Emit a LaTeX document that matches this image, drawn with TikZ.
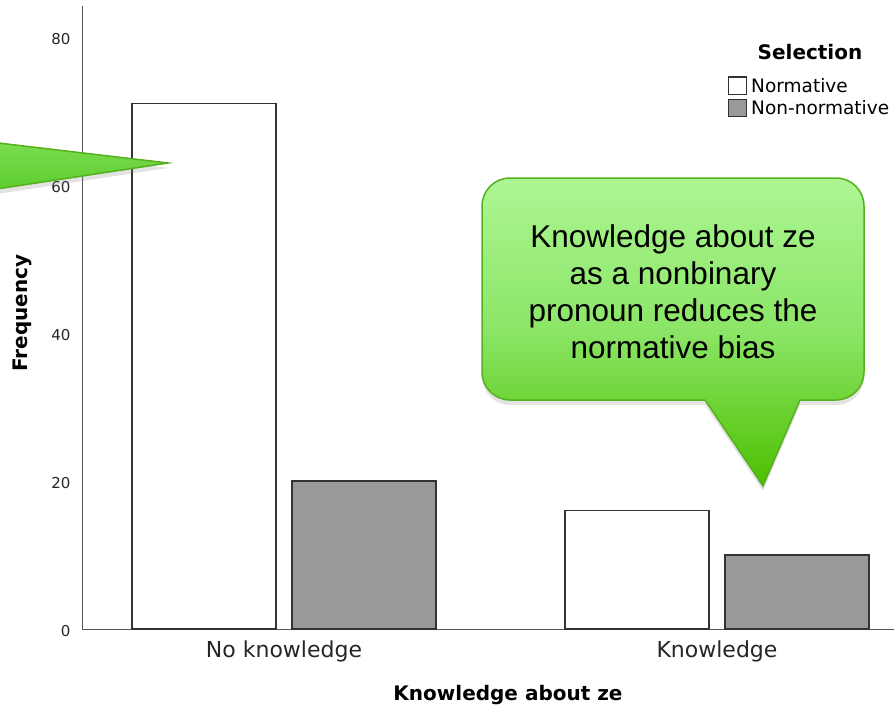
\documentclass[tikz,border=0pt]{standalone}
\usepackage{fontspec}
\setmainfont{DejaVu Sans}
\newfontfamily\callfont{Liberation Sans}
\usetikzlibrary{shadows}
\definecolor{barGray}{HTML}{999999}
\definecolor{axisGray}{HTML}{555555}
\definecolor{calloutTop}{HTML}{ACF693}
\definecolor{calloutMid}{HTML}{8BE566}
\definecolor{calloutBot}{HTML}{4CC000}
\definecolor{calloutLine}{HTML}{55B01E}
\definecolor{pointerTop}{HTML}{7ADD50}
\definecolor{pointerBot}{HTML}{5DCD2E}

\begin{document}
\begin{tikzpicture}[x=1pt,y=-1pt,
  bar/.style={draw=black!80, line width=1.3pt},
  ticklbl/.style={anchor=east, font=\fontsize{15}{18}\selectfont, text=black!85},
  catlbl/.style={font=\fontsize{22}{26}\selectfont, text=black!85},
  axtitle/.style={font=\bfseries\fontsize{20}{24}\selectfont},
  leglbl/.style={anchor=west, font=\fontsize{18.5}{22}\selectfont, inner sep=0pt},
  callout/.style={draw=calloutLine, line width=1.5pt,
    drop shadow={opacity=0.22, shadow xshift=0pt, shadow yshift=-5pt}}
]
\useasboundingbox (0,0) rectangle (894,709);
\clip (0,0) rectangle (894,709);

% axes
\draw[axisGray, line width=1pt] (82,6) -- (82,629) -- (894,629);
\foreach \v in {0,20,...,80} {
\node[ticklbl] (tick\v) at (74, {631-7.4*\v}) {\v};
}

% bars
\foreach \x/\v/\c in {132/71/white, 292/20/barGray, 565/16/white, 725/10/barGray} {
\draw[bar, fill=\c] (\x,629) rectangle ({\x+144},{629-7.4*\v});
}

\node[catlbl] (noknow) at (284,651) {No knowledge};
\node[catlbl] (know) at (717,651) {Knowledge};
\node[axtitle] (xtitle) at (508,695) {Knowledge about ze};
\node[axtitle, rotate=90] (ytitle) at (22,313) {Frequency};

% legend
\node[axtitle] (legtitle) at (810,52) {Selection};
\draw[bar, line width=1pt, fill=white] (728,77) rectangle (746,94);
\draw[bar, line width=1pt, fill=barGray] (728,99) rectangle (746,116);
\node[leglbl] (legnorm) at (751,86) {Normative};
\node[leglbl] (legnon) at (751,108) {Non-normative};

% callouts
\draw[callout, top color=pointerTop, bottom color=pointerBot]
  (-10,142) -- (168,163) -- (-10,190) -- cycle;
\draw[callout, top color=calloutTop, bottom color=calloutBot, middle color=calloutMid]
  (705,400) -- (510,400) arc[start angle=90, end angle=180, radius=28]
  -- (482,206) arc[start angle=180, end angle=270, radius=28]
  -- (836,178) arc[start angle=270, end angle=360, radius=28]
  -- (864,372) arc[start angle=0, end angle=90, radius=28]
  -- (800,400) -- (763,486) -- cycle;
\node[align=center, font=\callfont\fontsize{31.5}{37}\selectfont] (note) at (673,292)
  {Knowledge about ze\\as a nonbinary\\pronoun reduces the\\normative bias};

\end{tikzpicture}
\end{document}
